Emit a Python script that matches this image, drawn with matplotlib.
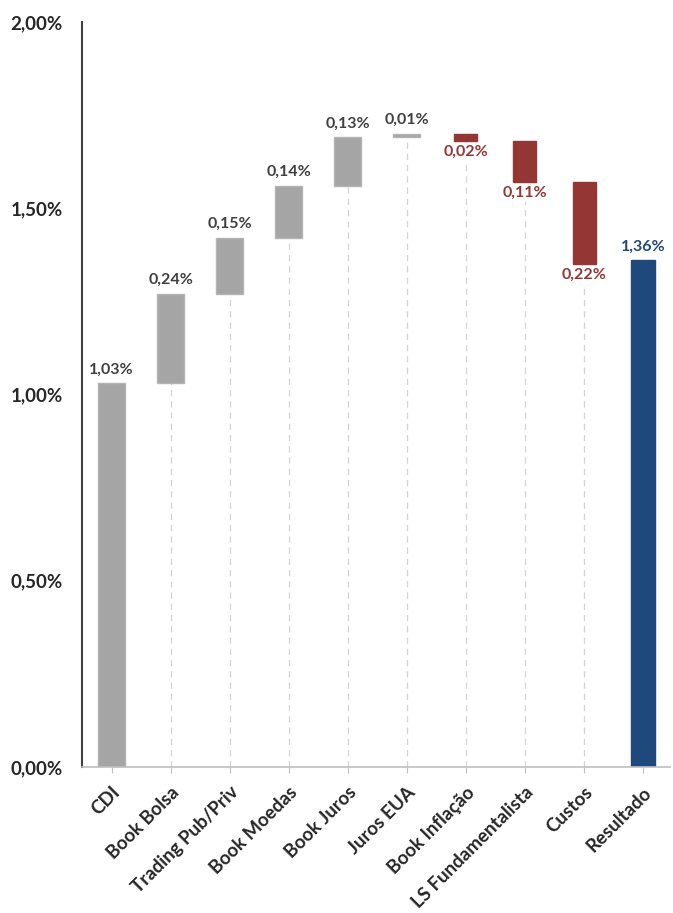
import numpy as np
import matplotlib
matplotlib.use("Agg")
from matplotlib import pyplot as plt

categories = ["CDI", "Book Bolsa", "Trading Pub/Priv", "Book Moedas", "Book Juros",
              "Juros EUA", "Book Inflação", "LS Fundamentalista", "Custos", "Resultado"]
# contribution of each item, in %
values = [1.03, 0.24, 0.15, 0.14, 0.13, 0.01, -0.02, -0.11, -0.22, 1.36]
labels = ["1,03%", "0,24%", "0,15%", "0,14%", "0,13%", "0,01%", "0,02%", "0,11%", "0,22%", "1,36%"]
yticks = [0.0, 0.5, 1.0, 1.5, 2.0]
yticklabels = ["0,00%", "0,50%", "1,00%", "1,50%", "2,00%"]

GRAY = "#a5a5a5"
RED = "#943634"
BLUE = "#1f497d"

plt.rcParams['font.family'] = ['Lato', 'DejaVu Sans']

fig = plt.figure(figsize=(6.73, 9.13), dpi=100)
ax = fig.add_axes([0.122, 0.16, 0.873, 0.816])

x = np.arange(len(categories))
vals = np.array(values)

# waterfall bottoms/tops
bottoms = []
tops = []
run = 0.0
for i, v in enumerate(vals):
    if i == 0 or i == len(vals) - 1:
        bottoms.append(0.0)
        tops.append(v)
        run = v
    else:
        new = run + v
        bottoms.append(min(run, new))
        tops.append(max(run, new))
        run = new
bottoms = np.array(bottoms)
tops = np.array(tops)
heights = tops - bottoms

colors = []
widths = []
edges = []
for i, v in enumerate(vals):
    if i == len(vals) - 1:
        colors.append(BLUE); widths.append(0.40); edges.append(BLUE)
    elif v < 0:
        colors.append(RED); widths.append(0.39); edges.append(RED)
    else:
        colors.append(GRAY); widths.append(0.46); edges.append("#b4b4b4")

# dashed guide lines from the axis to the bar bottom
for i in range(1, len(vals) - 1):
    ax.plot([x[i], x[i]], [0, bottoms[i]], ls=(0, (5, 4)), color="#d4d4d4", lw=0.9, zorder=1)

ax.bar(x, heights, bottom=bottoms, width=widths, color=colors,
       edgecolor=edges, linewidth=1.0, zorder=2)

for i, v in enumerate(vals):
    if i == len(vals) - 1:
        ax.text(x[i], tops[i] + 0.018, labels[i], ha="center", va="bottom",
                color=BLUE, fontsize=11.5, fontweight="bold")
    elif v < 0:
        ax.text(x[i], bottoms[i] - 0.01, labels[i], ha="center", va="top",
                color=RED, fontsize=11.5, fontweight="bold", zorder=3,
                bbox=dict(facecolor="white", edgecolor="none", pad=1.5))
    else:
        ax.text(x[i], tops[i] + 0.018, labels[i], ha="center", va="bottom",
                color="#404040", fontsize=11.5, fontweight="bold")

ax.set_ylim(0, 2.0)
ax.set_xlim(-0.5, 9.45)
ax.set_yticks(yticks)
ax.set_yticklabels(yticklabels, fontsize=13.5, fontweight="bold", color="#262626")
ax.tick_params(axis="y", length=0, pad=14)
ax.set_xticks(x)
ax.set_xticklabels(categories, rotation=45, ha="right", rotation_mode="anchor",
                   fontsize=13.5, fontweight="bold", color="#262626")
ax.tick_params(axis="x", length=4, color="#bfbfbf", pad=8)

ax.spines["top"].set_visible(False)
ax.spines["right"].set_visible(False)
ax.spines["left"].set_color("#404040")
ax.spines["left"].set_linewidth(1.5)
ax.spines["bottom"].set_color("#bfbfbf")
ax.spines["bottom"].set_linewidth(1.2)

fig.savefig("out.png", dpi=100)
